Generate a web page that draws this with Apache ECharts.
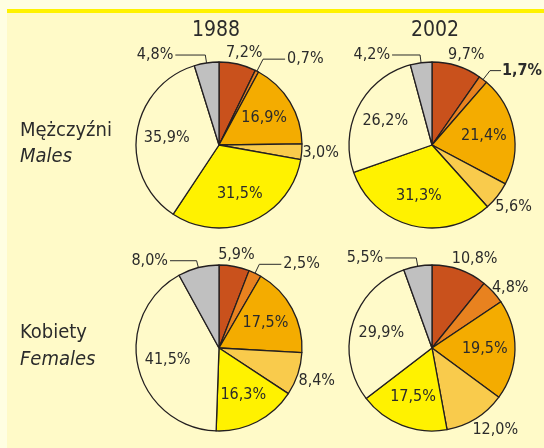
<!DOCTYPE html>
<html>
<head>
<meta charset="utf-8">
<script src="https://cdn.jsdelivr.net/npm/echarts@6/dist/echarts.min.js"></script>
<style>
html, body { margin: 0; padding: 0; background: #fffee2; }
#chart { width: 544px; height: 448px; }
</style>
</head>
<body>
<div id="chart"></div>
<script>
// values, clockwise from 12 o'clock
const years = ['1988', '2002'];
const rowNames = [['Mężczyźni', 'Males'], ['Kobiety', 'Females']];
const categories = ['k1', 'k2', 'k3', 'k4', 'k5', 'k6', 'k7'];
const males1988 = [7.2, 0.7, 16.9, 3.0, 31.5, 35.9, 4.8];
const males2002 = [9.7, 1.7, 21.4, 5.6, 31.3, 26.2, 4.2];
const females1988 = [5.9, 2.5, 17.5, 8.4, 16.3, 41.5, 8.0];
const females2002 = [10.8, 4.8, 19.5, 12.0, 17.5, 29.9, 5.5];

const sliceColors = ['#c9511c', '#e8821f', '#f4ac00', '#f9cb4c', '#fff200', '#fffac9', '#c0c0c0'];
const FONT = '"DejaVu Sans Condensed", "Liberation Sans", sans-serif';
const TEXT = '#2b2b2b';
const R = 83;

// outside label style per slice (missing = label inside the slice)
const pies = [
    {values: males1988, center: [219, 145], outside: {
        0: {line: false, len: 11.5, len2: 0, dist: 4},
        1: {line: true, len: 13.5, len2: 22, dist: 2},
        3: {line: false, len: 14, len2: 0, dist: 5},
        6: {line: true, len: 8, len2: 30, dist: 2}
    }},
    {values: males2002, center: [432, 145], outside: {
        0: {line: false, len: 11.3, len2: 0, dist: 6},
        1: {line: true, len: 11.3, len2: 11, dist: 1, bold: true},
        3: {line: false, len: 16.8, len2: 0, dist: 3},
        6: {line: true, len: 7.8, len2: 28, dist: 2}
    }},
    {values: females1988, center: [219, 348], outside: {
        0: {line: false, len: 11.6, len2: 0, dist: 0},
        1: {line: true, len: 9.9, len2: 22, dist: 2},
        3: {line: false, len: 21, len2: 0, dist: -1},
        6: {line: true, len: 7.1, len2: 26.6, dist: 2}
    }},
    {values: females2002, center: [432, 348], outside: {
        0: {line: false, len: 12, len2: 0, dist: 11},
        1: {line: false, len: 5.4, len2: 0, dist: 13},
        3: {line: false, len: 13.7, len2: 0, dist: 12},
        6: {line: true, len: 8.4, len2: 31, dist: 2}
    }}
];

const fmt = v => v.toFixed(1).replace('.', ',') + '%';

const series = [];
pies.forEach(pie => {
    series.push({
        type: 'pie',
        center: pie.center,
        radius: [0, R],
        startAngle: 90,
        clockwise: true,
        avoidLabelOverlap: false,
        silent: true,
        itemStyle: {borderColor: '#231f20', borderWidth: 1.3},
        labelLayout: params => {
            const o = pie.outside[params.dataIndex];
            return o && !o.line ? {align: 'center'} : {};
        },
        data: pie.values.map((v, i) => {
            const o = pie.outside[i];
            return {
                name: categories[i],
                value: v,
                itemStyle: {color: sliceColors[i]},
                label: o ? {
                    show: true,
                    position: 'outside',
                    alignTo: 'none',
                    distanceToLabelLine: o.dist,
                    formatter: fmt(v),
                    fontFamily: FONT,
                    fontSize: 16,
                    fontWeight: o.bold ? 'bold' : 'normal',
                    color: TEXT
                } : {show: false},
                labelLine: o ? {
                    show: o.line,
                    length: o.len,
                    length2: o.len2,
                    lineStyle: {color: '#2b2b2b', width: 1}
                } : {show: false}
            };
        })
    });
    // transparent copy, a bit larger, only to carry the inside labels
    series.push({
        type: 'pie',
        center: pie.center,
        radius: [0, R * 1.2],
        startAngle: 90,
        clockwise: true,
        silent: true,
        z: 3,
        itemStyle: {color: 'rgba(0,0,0,0)', borderWidth: 0},
        labelLine: {show: false},
        data: pie.values.map((v, i) => ({
            name: categories[i],
            value: v,
            label: {
                show: !pie.outside[i],
                position: 'inside',
                formatter: fmt(v),
                fontFamily: FONT,
                fontSize: 16,
                color: TEXT
            }
        }))
    });
});

const graphic = [
    {type: 'rect', shape: {x: 7, y: 9, width: 537, height: 439}, style: {fill: '#fffac8'}},
    {type: 'rect', shape: {x: 7, y: 9, width: 537, height: 4}, style: {fill: '#fff200'}},
    {type: 'text', x: 216, y: 31, style: {text: years[0], font: '21px ' + FONT, fill: TEXT, align: 'center', verticalAlign: 'middle'}},
    {type: 'text', x: 435, y: 31, style: {text: years[1], font: '21px ' + FONT, fill: TEXT, align: 'center', verticalAlign: 'middle'}},
    {type: 'text', x: 20, y: 131, style: {text: rowNames[0][0], font: '20px ' + FONT, fill: TEXT, verticalAlign: 'middle'}},
    {type: 'text', x: 20, y: 157, style: {text: rowNames[0][1], font: 'italic 20px ' + FONT, fill: TEXT, verticalAlign: 'middle'}},
    {type: 'text', x: 20, y: 333, style: {text: rowNames[1][0], font: '20px ' + FONT, fill: TEXT, verticalAlign: 'middle'}},
    {type: 'text', x: 20, y: 360, style: {text: rowNames[1][1], font: 'italic 20px ' + FONT, fill: TEXT, verticalAlign: 'middle'}}
];

const chart = echarts.init(document.getElementById('chart'));
chart.setOption({
    backgroundColor: '#fffee2',
    animation: false,
    graphic: graphic,
    series: series
});
</script>
</body>
</html>
